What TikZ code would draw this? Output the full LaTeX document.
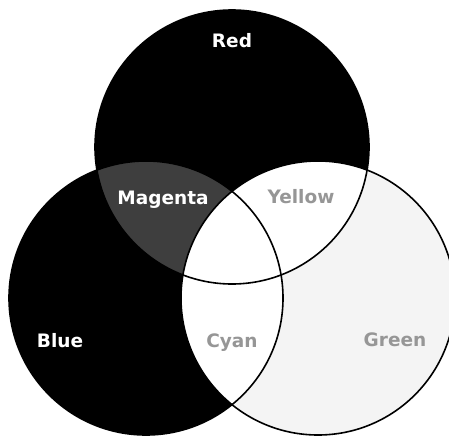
\documentclass[tikz,border=0pt]{standalone}
\usepackage{fontspec}
\setmainfont{DejaVu Sans}
\definecolor{magentagray}{RGB}{62,62,62}
\definecolor{greengray}{RGB}{244,244,244}
\definecolor{labelgray}{RGB}{150,150,150}
\tikzset{
  setline/.style={line width=1.6pt, draw=black},
  darklabel/.style={
    font=\bfseries\fontsize{18.5}{20}\selectfont,
    text=white,
    anchor=base,
    inner sep=0pt
  },
  lightlabel/.style={darklabel, text=labelgray}
}

\begin{document}
\begin{tikzpicture}[x=1pt,y=-1pt]
  \useasboundingbox (0,0) rectangle (449,436);
  \clip (0,0) rectangle (449,436);
  \fill[white] (0,0) rectangle (449,436);
  \coordinate (red) at (232,147);
  \coordinate (blue) at (146,298);
  \coordinate (green) at (318,298);
  % primaries
  \fill[black] (red) circle[radius=137pt];
  \fill[black] (blue) circle[radius=137pt];
  \fill[greengray] (green) circle[radius=137pt];
  % overlaps
  \begin{scope}
    \clip (red) circle[radius=137pt];
    \fill[magentagray] (blue) circle[radius=137pt];
    \fill[white] (green) circle[radius=137pt];
  \end{scope}
  \begin{scope}
    \clip (blue) circle[radius=137pt];
    \fill[white] (green) circle[radius=137pt];
  \end{scope}
  \draw[setline] (red) circle[radius=137pt];
  \draw[setline] (blue) circle[radius=137pt];
  \draw[setline] (green) circle[radius=137pt];
  % labels
  \node[darklabel] (redlabel) at (232,48) {Red};
  \node[darklabel] (magentalabel) at (163,204) {Magenta};
  \node[lightlabel] (yellowlabel) at (301,203) {Yellow};
  \node[darklabel] (bluelabel) at (60,347) {Blue};
  \node[lightlabel] (cyanlabel) at (232,347) {Cyan};
  \node[lightlabel] (greenlabel) at (395,346) {Green};
\end{tikzpicture}
\end{document}
